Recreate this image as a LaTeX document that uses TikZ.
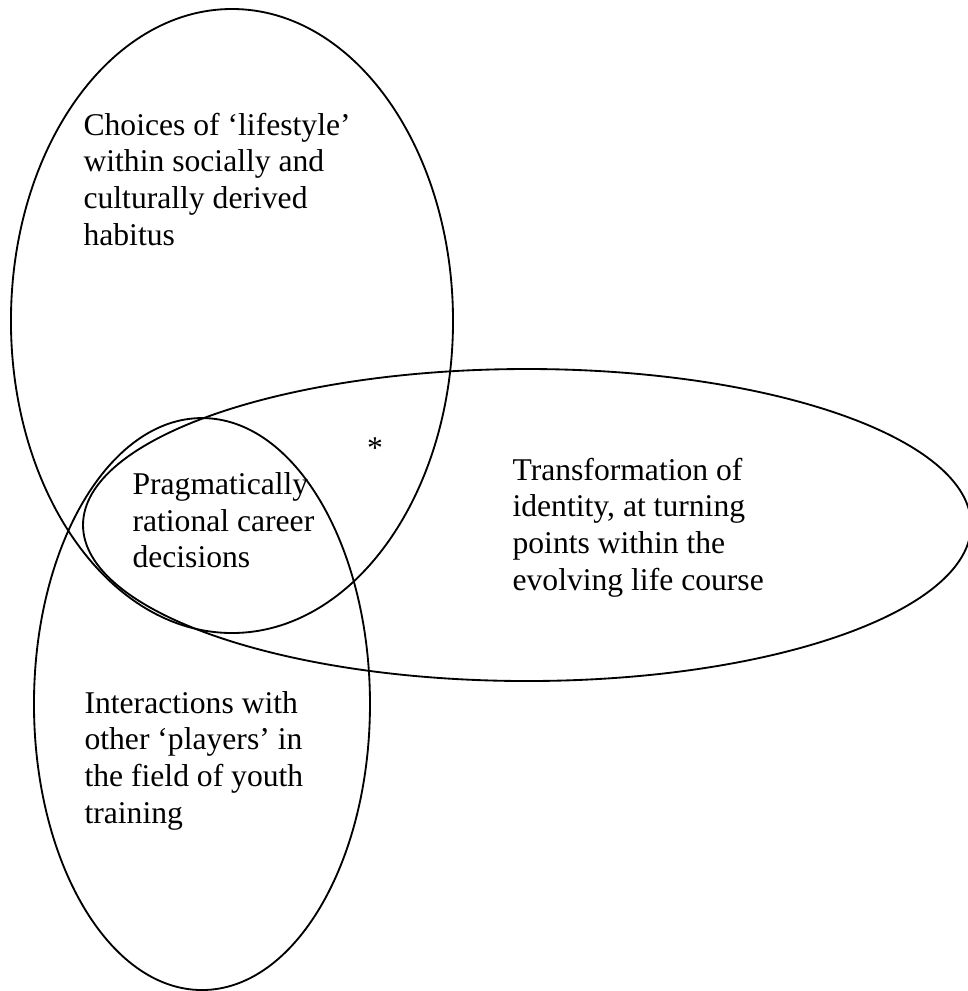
\documentclass[tikz,border=0pt]{standalone}
\usepackage{fontspec}
\setmainfont{Liberation Serif}

\begin{document}
\begin{tikzpicture}[
    ring/.style={line width=0.7pt},
    lbl/.style={align=left, anchor=base west, inner sep=0pt,
                font=\fontsize{12}{13.9}\selectfont}]
  \useasboundingbox (0,0) rectangle (12.893,-13.213);

  % Elipsy
  \draw[ring] (3.093,-4.280) ellipse [x radius=2.947, y radius=4.160];
  \draw[ring] (7.027,-7.000) ellipse [x radius=5.920, y radius=2.080];
  \draw[ring] (2.693,-9.387) ellipse [x radius=2.240, y radius=3.813];

  % Opisy (base = ostatni wiersz)
  \node[lbl] (choices) at (1.107,-3.267)
    {Choices of ‘lifestyle’\\within socially and\\culturally derived\\habitus};
  \node[lbl] (pragmatic) at (1.760,-7.573)
    {Pragmatically\\rational career\\decisions};
  \node[lbl] (transform) at (6.827,-7.867)
    {Transformation of\\identity, at turning\\points within the\\evolving life course};
  \node[lbl] (interact) at (1.120,-10.973)
    {Interactions with\\other ‘players’ in\\the field of youth\\training};

  \node[lbl, anchor=base] (star) at (5.000,-6.107) {*};
\end{tikzpicture}
\end{document}
